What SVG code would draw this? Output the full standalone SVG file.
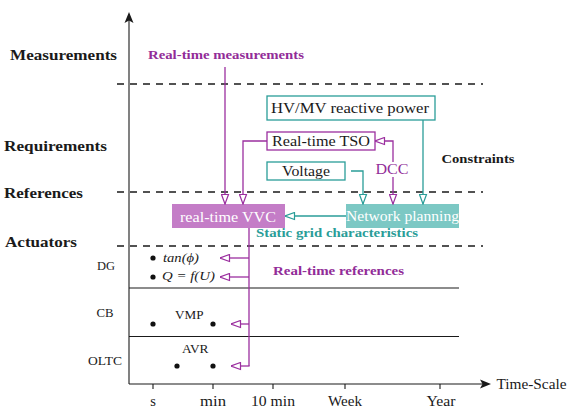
<svg xmlns="http://www.w3.org/2000/svg" width="573" height="414" viewBox="0 0 573 414">
<style>
text{font-family:"Liberation Serif","Times New Roman",serif;fill:#1a1a1a;}
.b{font-weight:bold;font-size:14.5px;}
.bs{font-weight:bold;font-size:12px;}
.r{font-size:14.5px;}
.s{font-size:13px;}
.it{font-style:italic;font-size:12.5px;}
.pur{fill:#922c98;}
.tea{fill:#2a9d98;}
.wt{fill:#ffffff;}
.dash{stroke:#1a1a1a;stroke-width:1.3;stroke-dasharray:7 6;fill:none;}
.ax{stroke:#1a1a1a;stroke-width:1.1;fill:none;}
.cp{stroke:#9b2f9f;stroke-width:1.3;fill:none;marker-end:url(#ap);}
.ct{stroke:#2a9d98;stroke-width:1.3;fill:none;marker-end:url(#at);}
.cpn{stroke:#9b2f9f;stroke-width:1.3;fill:none;}
</style>
<defs>
<marker id="ap" viewBox="0 0 11 9" refX="10.5" refY="4.5" markerWidth="11" markerHeight="9" markerUnits="userSpaceOnUse" orient="auto">
<path d="M1,1 L10.5,4.5 L1,8 Z" fill="#fff" stroke="#9b2f9f" stroke-width="1.2"/>
</marker>
<marker id="at" viewBox="0 0 11 9" refX="10.5" refY="4.5" markerWidth="11" markerHeight="9" markerUnits="userSpaceOnUse" orient="auto">
<path d="M1,1 L10.5,4.5 L1,8 Z" fill="#fff" stroke="#2a9d98" stroke-width="1.2"/>
</marker>
</defs>
<rect width="573" height="414" fill="#fff"/>

<g id="axes">
<line class="ax" x1="129" y1="384" x2="129" y2="18"/>
<polygon points="129,12 124.5,23 129,20.5 133.5,23" fill="#1a1a1a"/>
<line class="ax" x1="129" y1="384" x2="484" y2="384"/>
<polygon points="491,384 480,379.5 482.5,384 480,388.5" fill="#1a1a1a"/>
<line class="ax" x1="153" y1="384" x2="153" y2="389"/>
<line class="ax" x1="213" y1="384" x2="213" y2="389"/>
<line class="ax" x1="273" y1="384" x2="273" y2="389"/>
<line class="ax" x1="345" y1="384" x2="345" y2="389"/>
<line class="ax" x1="440" y1="384" x2="440" y2="389"/>
<text class="r" x="153" y="406" text-anchor="middle">s</text>
<text class="r" x="200" y="406" textLength="26" lengthAdjust="spacingAndGlyphs">min</text>
<text class="r" x="251" y="406" textLength="44" lengthAdjust="spacingAndGlyphs">10 min</text>
<text class="r" x="328" y="406" textLength="34" lengthAdjust="spacingAndGlyphs">Week</text>
<text class="r" x="426.5" y="406" textLength="29" lengthAdjust="spacingAndGlyphs">Year</text>
<text class="r" x="496.5" y="389" textLength="70" lengthAdjust="spacingAndGlyphs">Time-Scale</text>
</g>

<g id="layers">
<line class="dash" x1="117" y1="84" x2="483" y2="84"/>
<line class="dash" x1="117" y1="192" x2="483" y2="192"/>
<line class="dash" x1="117" y1="246" x2="483" y2="246"/>
<line class="ax" x1="129" y1="288" x2="459" y2="288"/>
<line class="ax" x1="129" y1="336.5" x2="459" y2="336.5"/>
<text class="b" x="10" y="60" textLength="107" lengthAdjust="spacingAndGlyphs">Measurements</text>
<text class="b" x="4" y="151" textLength="103" lengthAdjust="spacingAndGlyphs">Requirements</text>
<text class="b" x="4" y="198" textLength="79" lengthAdjust="spacingAndGlyphs">References</text>
<text class="b" x="5" y="246.5" textLength="72" lengthAdjust="spacingAndGlyphs">Actuators</text>
</g>

<g id="labels">
<text class="bs pur" x="148" y="58.5" textLength="156" lengthAdjust="spacingAndGlyphs">Real-time measurements</text>
<text class="bs" x="441.5" y="162.5" textLength="73" lengthAdjust="spacingAndGlyphs">Constraints</text>
<text class="bs tea" x="256" y="236.5" textLength="162" lengthAdjust="spacingAndGlyphs">Static grid characteristics</text>
<text class="bs pur" x="273" y="274.5" textLength="131" lengthAdjust="spacingAndGlyphs">Real-time references</text>
</g>

<g id="hvmv">
<rect x="267" y="96" width="168" height="24" fill="#fff" stroke="#2a9d98" stroke-width="1.3"/>
<text class="r" x="271" y="112.5" textLength="158" lengthAdjust="spacingAndGlyphs">HV/MV reactive power</text>
</g>
<g id="tso">
<rect x="267" y="132" width="108" height="18" fill="#fff" stroke="#9b2f9f" stroke-width="1.3"/>
<text class="r" x="272" y="146" textLength="98" lengthAdjust="spacingAndGlyphs">Real-time TSO</text>
</g>
<g id="voltage">
<rect x="267" y="162" width="78" height="18" fill="#fff" stroke="#2a9d98" stroke-width="1.3"/>
<text class="r" x="282" y="175.5" textLength="48" lengthAdjust="spacingAndGlyphs">Voltage</text>
</g>
<g id="network">
<rect x="346" y="204" width="113" height="24" fill="#7cc8c4"/>
<text class="r wt" x="346" y="220.5" textLength="113" lengthAdjust="spacingAndGlyphs">Network planning</text>
</g>
<g id="vvc">
<rect x="172" y="204" width="113" height="24" fill="#c47dc7"/>
<text class="r wt" x="180" y="221.5" textLength="96" lengthAdjust="spacingAndGlyphs">real-time VVC</text>
</g>
<g id="dcc">
<text class="r pur" x="375.5" y="173.5" textLength="33" lengthAdjust="spacingAndGlyphs">DCC</text>
</g>

<g id="actuators">
<text class="s" x="97" y="269.5" textLength="18" lengthAdjust="spacingAndGlyphs">DG</text>
<text class="s" x="96.5" y="317" textLength="17" lengthAdjust="spacingAndGlyphs">CB</text>
<text class="s" x="88" y="365" textLength="34" lengthAdjust="spacingAndGlyphs">OLTC</text>
<circle cx="153" cy="258" r="2.6" fill="#111"/>
<circle cx="153" cy="277" r="2.6" fill="#111"/>
<text class="it" x="163" y="262" textLength="36" lengthAdjust="spacingAndGlyphs">tan(ϕ)</text>
<text class="it" x="162" y="280" textLength="53" lengthAdjust="spacingAndGlyphs">Q = f(U)</text>
<circle cx="153" cy="324" r="2.6" fill="#111"/>
<circle cx="213" cy="324" r="2.6" fill="#111"/>
<text class="s" x="175" y="318.5" textLength="28.5" lengthAdjust="spacingAndGlyphs">VMP</text>
<circle cx="177" cy="366" r="2.6" fill="#111"/>
<circle cx="213" cy="366" r="2.6" fill="#111"/>
<text class="s" x="182" y="352.5" textLength="26.5" lengthAdjust="spacingAndGlyphs">AVR</text>
</g>

<g id="connectors">
<path class="cp" d="M225,67 V204"/>
<path class="cp" d="M267,141 H243 V204"/>
<path class="cp" d="M393,162 V141 H375"/>
<path class="cp" d="M393,177 V204"/>
<path class="cpn" d="M249,228 V366"/>
<path class="cp" d="M249,258 H220"/>
<path class="cp" d="M249,277 H220"/>
<path class="cp" d="M249,324 H231"/>
<path class="cp" d="M249.6,366 H231"/>
<path class="ct" d="M423,120 V204"/>
<path class="ct" d="M351,171 H363 V204"/>
<path class="ct" d="M346,216 H285"/>
</g>
</svg>
